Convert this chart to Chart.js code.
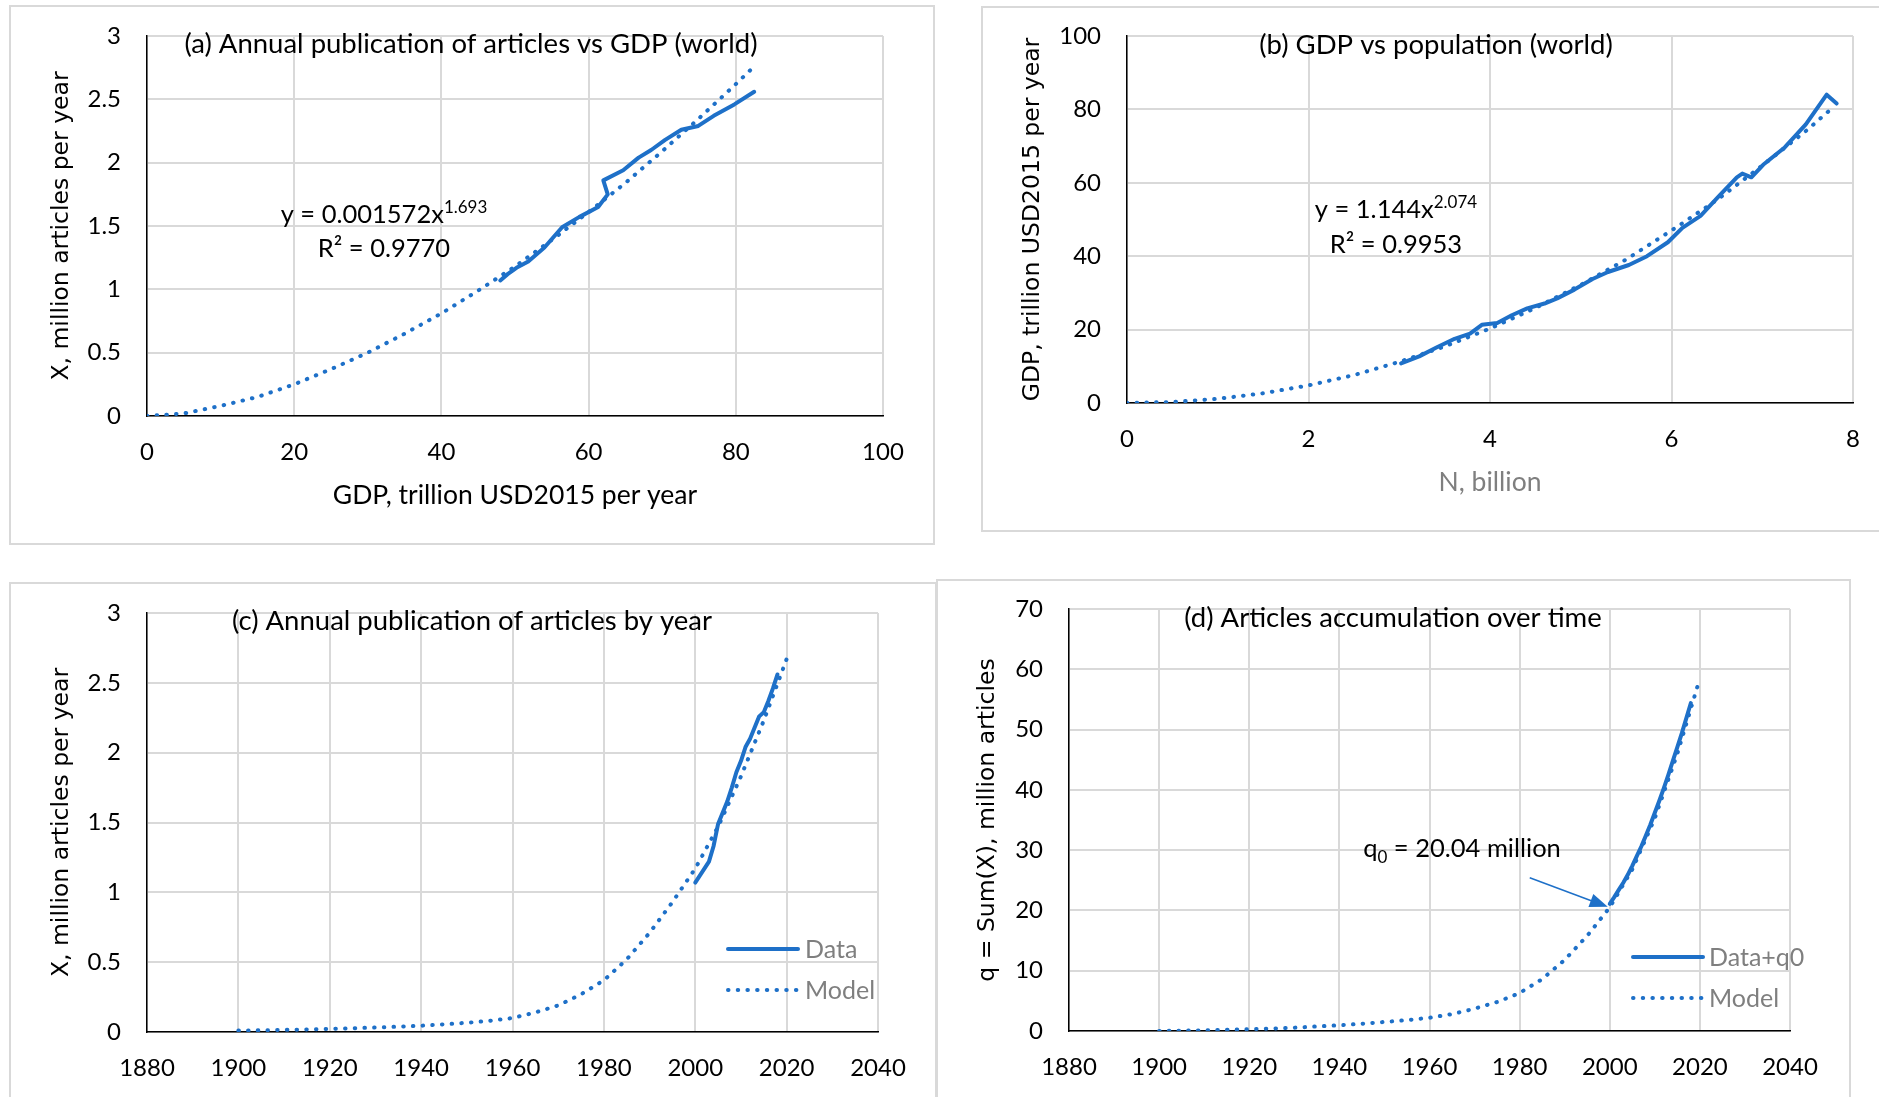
<!DOCTYPE html>
<html>
<head>
<meta charset="utf-8">
<script src="https://cdn.jsdelivr.net/npm/chart.js@4.4.1/dist/chart.umd.min.js"></script>
<style>
  body { margin: 0; background: #fff; width: 1879px; height: 1097px; overflow: hidden; position: relative; }
  .box { position: absolute; border: 2px solid #d9d9d9; box-sizing: border-box; }
  canvas { position: absolute; }
</style>
</head>
<body>
<div class="box" style="left:9px;top:5px;width:926px;height:540px"></div>
<div class="box" style="left:981px;top:6px;width:920px;height:526px"></div>
<div class="box" style="left:9px;top:582px;width:928px;height:540px"></div>
<div class="box" style="left:936px;top:579px;width:915px;height:540px"></div>
<canvas id="chartA" width="926" height="540" style="left:9px;top:5px"></canvas>
<canvas id="chartB" width="898" height="526" style="left:981px;top:6px"></canvas>
<canvas id="chartC" width="928" height="515" style="left:9px;top:582px"></canvas>
<canvas id="chartD" width="915" height="518" style="left:936px;top:579px"></canvas>
<script>
// yearly data 2000-2018
var dataYears = [2000, 2001, 2002, 2003, 2004, 2005, 2006, 2007, 2008, 2009, 2010, 2011, 2012, 2013, 2014, 2015, 2016, 2017, 2018];
var gdpData = [48.0, 49.0, 50.2, 51.8, 54.0, 56.4, 58.7, 61.3, 62.6, 62.0, 64.7, 66.8, 68.5, 70.4, 72.6, 74.9, 77.0, 79.8, 82.5];
var articlesData = [1.07, 1.12, 1.17, 1.22, 1.33, 1.49, 1.57, 1.65, 1.75, 1.86, 1.94, 2.04, 2.10, 2.18, 2.26, 2.29, 2.37, 2.46, 2.56];
var qData = [21.1, 22.2, 23.4, 24.6, 25.9, 27.4, 29.0, 30.6, 32.4, 34.2, 36.2, 38.2, 40.3, 42.5, 44.8, 47.1, 49.4, 51.9, 54.4];

// (a) model X vs GDP
var modelGdp = [0, 5, 10, 15, 20, 25, 30, 35, 40, 45, 50, 55, 60, 65, 70, 75, 80, 82.5];
var modelArticlesGdp = [0, 0.02, 0.08, 0.15, 0.25, 0.37, 0.50, 0.65, 0.81, 0.99, 1.18, 1.39, 1.61, 1.84, 2.09, 2.35, 2.62, 2.76];

// (b) GDP vs population
var popN = [3.02, 3.22, 3.41, 3.61, 3.78, 3.91, 4.08, 4.24, 4.41, 4.60, 4.74, 4.93, 5.13, 5.30, 5.53, 5.73, 5.96, 6.12, 6.32, 6.52, 6.72, 6.78, 6.88, 7.01, 7.25, 7.48, 7.71, 7.82];
var gdpWorld = [10.8, 12.7, 15.1, 17.5, 18.9, 21.3, 21.8, 23.9, 25.8, 27.1, 28.5, 30.9, 33.8, 35.7, 37.6, 40.0, 43.8, 47.7, 51.0, 56.3, 61.5, 62.5, 61.5, 64.9, 69.7, 75.9, 84.0, 81.6];
var modelPop = [0, 0.5, 1, 1.5, 2, 2.5, 3, 3.5, 4, 4.5, 5, 5.5, 6, 6.5, 7, 7.5, 7.8];
var modelGdpPop = [0, 0.27, 1.14, 2.65, 4.8, 7.6, 11.2, 15.4, 20.3, 25.9, 32.2, 39.1, 47.0, 55.3, 64.7, 74.5, 81.0];

// (c), (d) models by year
var modelYears = [1900, 1905, 1910, 1915, 1920, 1925, 1930, 1935, 1940, 1945, 1950, 1955, 1960, 1965, 1970, 1975, 1980, 1985, 1990, 1995, 2000, 2005, 2010, 2015, 2020];
var modelX = [0.01, 0.012, 0.015, 0.018, 0.022, 0.027, 0.032, 0.038, 0.045, 0.055, 0.066, 0.08, 0.10, 0.14, 0.19, 0.27, 0.37, 0.52, 0.71, 0.93, 1.17, 1.47, 1.83, 2.23, 2.67];
var modelQ = [0, 0.05, 0.1, 0.2, 0.3, 0.4, 0.55, 0.75, 0.95, 1.2, 1.5, 1.8, 2.2, 2.8, 3.7, 4.8, 6.3, 8.6, 11.8, 15.8, 20.5, 26.8, 35.3, 46.0, 58.5];

var blue = '#1e70c8';
var gridCol = '#d9d9d9';
var tickFont = { family: 'Lato', size: 24 };
var dotDash = [0.5, 9.2];

function pts(xs, ys) {
    return xs.map(function (x, i) { return { x: x, y: ys[i] }; });
}

function solidSet(d) {
    return { label: 'Data', data: d, borderColor: blue, borderWidth: 4, pointRadius: 0, borderCapStyle: 'round', borderJoinStyle: 'round', fill: false };
}
function dotSet(d) {
    return { label: 'Model', data: d, borderColor: blue, borderWidth: 4, borderDash: dotDash, borderCapStyle: 'round', pointRadius: 0, fill: false };
}

function scaleX(o) {
    return {
        type: 'linear', min: o.min, max: o.max,
        ticks: { stepSize: o.step, padding: 22, color: '#000', font: tickFont, maxRotation: 0, callback: function (v) { return String(v); } },
        grid: { color: gridCol, lineWidth: 2, drawTicks: false },
        border: { color: '#000', width: 1.5 },
        title: o.title ? { display: true, text: o.title, color: o.titleColor || '#000', font: { family: 'Lato', size: 26.5 }, padding: { top: 0, bottom: 34 } } : { display: false },
        afterFit: function (s) { s.height = o.h; s.paddingLeft = 0; s.paddingRight = 0; }
    };
}
function scaleY(o) {
    return {
        type: 'linear', min: o.min, max: o.max,
        ticks: { stepSize: o.step, padding: 26, color: '#000', font: tickFont, callback: function (v) { return String(v); } },
        grid: { color: gridCol, lineWidth: 2, drawTicks: false },
        border: { color: '#000', width: 1.5 },
        title: { display: true, text: o.title, color: '#000', font: { family: 'DejaVu Sans', size: 23.5 }, padding: { top: o.tpad, bottom: 0 } },
        afterFit: function (s) { s.width = o.w; s.paddingTop = 0; s.paddingBottom = 0; }
    };
}

function supText(ctx, base, small, cx, y) {
    ctx.font = '25.5px Lato';
    var w1 = ctx.measureText(base).width;
    ctx.font = '17px Lato';
    var w2 = ctx.measureText(small).width;
    var x0 = cx - (w1 + w2) / 2;
    ctx.textAlign = 'left';
    ctx.font = '25.5px Lato';
    ctx.fillText(base, x0, y);
    ctx.font = '17px Lato';
    ctx.fillText(small, x0 + w1, y - 10);
}

function overlay(cfg) {
    return {
        id: 'overlay',
        afterDraw: function (chart) {
            var ctx = chart.ctx;
            ctx.save();
            ctx.fillStyle = '#000';
            ctx.textBaseline = 'alphabetic';
            ctx.font = '27.5px Lato';
            ctx.textAlign = 'center';
            ctx.fillText(cfg.title[0], cfg.title[1], cfg.title[2]);
            if (cfg.eq) {
                supText(ctx, cfg.eq[0], cfg.eq[1], cfg.eq[2], cfg.eq[3]);
                ctx.font = '25.5px Lato';
                ctx.textAlign = 'center';
                ctx.fillText(cfg.eq[4], cfg.eq[2], cfg.eq[5]);
            }
            if (cfg.q0) {
                // q0 label with subscript, then the arrow to the start of data
                ctx.font = '25.5px Lato';
                var a = ctx.measureText('q').width;
                var c = ctx.measureText(' = 20.04 million').width;
                ctx.font = '17px Lato';
                var b = ctx.measureText('0').width;
                var x0 = cfg.q0[0] - (a + b + c) / 2;
                ctx.textAlign = 'left';
                ctx.font = '25.5px Lato';
                ctx.fillText('q', x0, cfg.q0[1]);
                ctx.fillText(' = 20.04 million', x0 + a + b, cfg.q0[1]);
                ctx.font = '17px Lato';
                ctx.fillText('0', x0 + a, cfg.q0[1] + 6);
                var tx = chart.scales.x.getPixelForValue(2000) - 2;
                var ty = chart.scales.y.getPixelForValue(20.6);
                var fx = tx - 78, fy = ty - 29;
                var ang = Math.atan2(ty - fy, tx - fx);
                ctx.strokeStyle = blue;
                ctx.fillStyle = blue;
                ctx.lineWidth = 1.5;
                ctx.beginPath();
                ctx.moveTo(fx, fy);
                ctx.lineTo(tx - 14 * Math.cos(ang), ty - 14 * Math.sin(ang));
                ctx.stroke();
                ctx.beginPath();
                ctx.moveTo(tx, ty);
                ctx.lineTo(tx - 18 * Math.cos(ang) + 7 * Math.sin(ang), ty - 18 * Math.sin(ang) - 7 * Math.cos(ang));
                ctx.lineTo(tx - 18 * Math.cos(ang) - 7 * Math.sin(ang), ty - 18 * Math.sin(ang) + 7 * Math.cos(ang));
                ctx.closePath();
                ctx.fill();
            }
            if (cfg.legend) {
                var L = cfg.legend;
                ctx.strokeStyle = blue;
                ctx.lineCap = 'round';
                ctx.lineWidth = 4;
                ctx.beginPath();
                ctx.moveTo(L.x1, L.y1); ctx.lineTo(L.x2, L.y1);
                ctx.stroke();
                ctx.setLineDash(dotDash);
                ctx.beginPath();
                ctx.moveTo(L.x1, L.y2); ctx.lineTo(L.x2, L.y2);
                ctx.stroke();
                ctx.setLineDash([]);
                ctx.fillStyle = '#7f7f7f';
                ctx.font = '25px Lato';
                ctx.textAlign = 'left';
                ctx.fillText(L.labels[0], L.tx, L.y1 + 9);
                ctx.fillText(L.labels[1], L.tx, L.y2 + 9);
            }
            ctx.restore();
        }
    };
}

function makeChart(id, datasets, opt, ov) {
    var el = document.getElementById(id);
    if (!el) { console.error('Canvas ' + id + ' not found'); return; }
    return new Chart(el, {
        type: 'line',
        data: { datasets: datasets },
        options: {
            responsive: false,
            animation: false,
            devicePixelRatio: 1,
            layout: { padding: opt.pad },
            scales: { x: scaleX(opt.x), y: scaleY(opt.y) },
            plugins: { legend: { display: false }, tooltip: { enabled: false } }
        },
        plugins: [overlay(ov)]
    });
}

// (a)
makeChart('chartA',
    [solidSet(pts(gdpData, articlesData)), dotSet(pts(modelGdp, modelArticlesGdp))],
    {
        pad: { left: 0, top: 31, right: 52, bottom: 0 },
        x: { min: 0, max: 100, step: 20, h: 129, title: 'GDP, trillion USD2015 per year' },
        y: { min: 0, max: 3, step: 0.5, w: 138, tpad: 39, title: 'X, million articles per year' }
    },
    {
        title: ['(a) Annual publication of articles vs GDP (world)', 462, 48],
        eq: ['y = 0.001572x', '1.693', 375, 218, 'R\u00b2 = 0.9770', 252]
    });

// (b)
makeChart('chartB',
    [solidSet(pts(popN, gdpWorld)), dotSet(pts(modelPop, modelGdpPop))],
    {
        pad: { left: 0, top: 30, right: 26, bottom: 0 },
        x: { min: 0, max: 8, step: 2, h: 129, title: 'N, billion', titleColor: '#7f7f7f' },
        y: { min: 0, max: 100, step: 20, w: 146, tpad: 38, title: 'GDP, trillion USD2015 per year' }
    },
    {
        title: ['(b) GDP vs population (world)', 455, 48],
        eq: ['y = 1.144x', '2.074', 415, 212, 'R\u00b2 = 0.9953', 247]
    });

// (c)
makeChart('chartC',
    [solidSet(pts(dataYears, articlesData)), dotSet(pts(modelYears, modelX))],
    {
        pad: { left: 0, top: 31, right: 59, bottom: 0 },
        x: { min: 1880, max: 2040, step: 20, h: 65 },
        y: { min: 0, max: 3, step: 0.5, w: 138, tpad: 39, title: 'X, million articles per year' }
    },
    {
        title: ['(c) Annual publication of articles by year', 463, 48],
        legend: { x1: 719, x2: 789, y1: 367, y2: 408, tx: 796, labels: ['Data', 'Model'] }
    });

// (d)
makeChart('chartD',
    [solidSet(pts(dataYears, qData)), dotSet(pts(modelYears, modelQ))],
    {
        pad: { left: 0, top: 30, right: 61, bottom: 0 },
        x: { min: 1880, max: 2040, step: 20, h: 66 },
        y: { min: 0, max: 70, step: 10, w: 133, tpad: 38, title: 'q = Sum(X), million articles' }
    },
    {
        title: ['(d) Articles accumulation over time', 457, 48],
        q0: [526, 278],
        legend: { x1: 697, x2: 767, y1: 378, y2: 419, tx: 773, labels: ['Data+q0', 'Model'] }
    });
</script>
</body>
</html>
